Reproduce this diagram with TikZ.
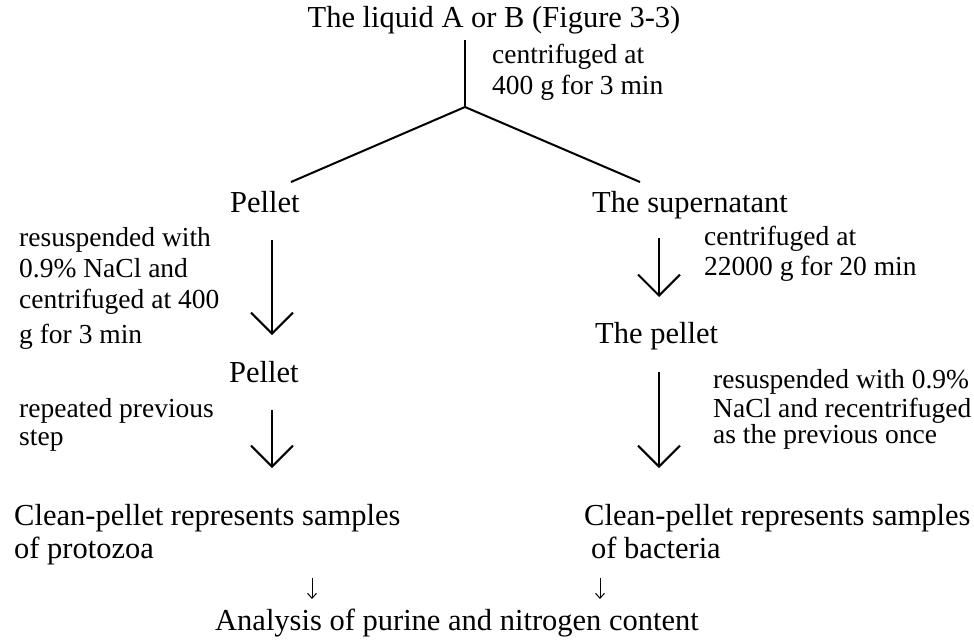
\documentclass[tikz,border=0pt]{standalone}
\usepackage{fontspec}
\setmainfont{Liberation Serif}
\usetikzlibrary{arrows.meta}
\begin{document}
\begin{tikzpicture}[x=1pt,y=-1pt,
  big/.style={inner sep=0pt,font=\fontsize{30.5}{36}\selectfont},
  small/.style={inner sep=0pt,font=\fontsize{27.5}{32}\selectfont},
  line/.style={line width=2pt},
  bigarrow/.style={line width=2pt,-{Straight Barb[length=21pt,width=42pt,line width=2pt]}},
  tinyarrow/.style={line width=1pt,-{Straight Barb[length=5pt,width=9pt,line width=1pt]}}]
\useasboundingbox (0,0) rectangle (974,641);
% texts
\node[big,anchor=base] (title) at (494,27) {The liquid A or B (Figure 3-3)};
\node[small,anchor=base west] (c1a) at (492,63) {centrifuged at};
\node[small,anchor=base west] (c1b) at (492,94) {400 g for 3 min};
\node[big,anchor=base west] (pel1) at (230,212) {Pellet};
\node[big,anchor=base west] (sup) at (592,212) {The supernatant};
\node[small,anchor=base west] (l1) at (19,246) {resuspended with};
\node[small,anchor=base west] (l2) at (19,277) {0.9\% NaCl and};
\node[small,anchor=base west] (l3) at (19,308) {centrifuged at 400};
\node[small,anchor=base west] (l4) at (19,343) {g for 3 min};
\node[big,anchor=base west] (pel2) at (229,382) {Pellet};
\node[small,anchor=base west] (l5) at (19,417) {repeated previous};
\node[small,anchor=base west] (l6) at (19,445) {step};
\node[big,anchor=base west] (cpL) at (14,525) {Clean-pellet represents samples};
\node[big,anchor=base west] (cpL2) at (14,558) {of protozoa};
\node[small,anchor=base west] (r1) at (704,245) {centrifuged at};
\node[small,anchor=base west] (r2) at (704,275) {22000 g for 20 min};
\node[big,anchor=base west] (tpel) at (595,343) {The pellet};
\node[small,anchor=base west] (r3) at (713,388) {resuspended with 0.9\%};
\node[small,anchor=base west] (r4) at (713,417) {NaCl and recentrifuged};
\node[small,anchor=base west] (r5) at (713,443) {as the previous once};
\node[big,anchor=base west] (cpR) at (584,525) {Clean-pellet represents samples};
\node[big,anchor=base west] (cpR2) at (591,558) {of bacteria};
\node[big,anchor=base west] (ana) at (215,630) {Analysis of purine and nitrogen content};
% coordinates
\coordinate (vtop) at (465,40);
\coordinate (apex) at (465,107);
\coordinate (bl) at (291,182);
\coordinate (br) at (640,182);
\coordinate (a1s) at (272,240); \coordinate (a1e) at (272,335);
\coordinate (a2s) at (272,410); \coordinate (a2e) at (272,468);
\coordinate (b1s) at (659,238); \coordinate (b1e) at (659,297);
\coordinate (b2s) at (659,372); \coordinate (b2e) at (659,468);
\coordinate (t1s) at (312,578); \coordinate (t1e) at (312,599);
\coordinate (t2s) at (600,578); \coordinate (t2e) at (600,599);
% connectors
\draw[line] (vtop) -- (apex);
\draw[line] (bl) -- (apex) -- (br);
\draw[bigarrow] (a1s) -- (a1e);
\draw[bigarrow] (a2s) -- (a2e);
\draw[bigarrow] (b1s) -- (b1e);
\draw[bigarrow] (b2s) -- (b2e);
\draw[tinyarrow] (t1s) -- (t1e);
\draw[tinyarrow] (t2s) -- (t2e);
\end{tikzpicture}
\end{document}
